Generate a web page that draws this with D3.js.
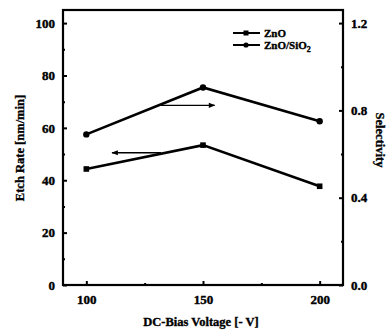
<!DOCTYPE html>
<html>
<head>
<script src="https://cdnjs.cloudflare.com/ajax/libs/d3/7.8.5/d3.min.js"></script>
<style>
  body { margin: 0; background: #fff; }
  text { font-family: "Liberation Serif", "Times New Roman", serif; font-weight: bold; fill: #000; stroke: #000; stroke-width: 0.35px; }
</style>
</head>
<body>
<svg width="387" height="331"></svg>
<script>
// data
const voltage = [100, 150, 200];
const etchZnO = [44.3, 53.4, 37.7];          // left axis, nm/min
const selectivity = [0.69, 0.905, 0.75];     // right axis
const leftTicks = [0, 20, 40, 60, 80, 100];
const rightTicks = [0, 0.4, 0.8, 1.2];
const xTicks = [100, 150, 200];
// arrows: [x from, x to, y in etch-rate units]
const arrows = [[132, 155, 68.6], [132, 111, 50.5]];

const svg = d3.select("svg");
const margin = {left: 63, right: 44, top: 10, bottom: 46};
const W = 387, H = 331;

const x = d3.scaleLinear().domain([90, 210]).range([margin.left, W - margin.right]);
const y = d3.scaleLinear().domain([0, 105]).range([H - margin.bottom, margin.top]);
const y2 = d3.scaleLinear().domain([0, 1.26]).range([H - margin.bottom, margin.top]);

svg.append("defs").append("marker")
  .attr("id", "arr").attr("viewBox", "0 0 10 10").attr("refX", 9).attr("refY", 5)
  .attr("markerWidth", 7).attr("markerHeight", 5).attr("orient", "auto")
  .append("path").attr("d", "M0,1 L10,5 L0,9 Z").attr("fill", "#000");

// axes (ticks inward)
const bottom = svg.append("g").attr("transform", `translate(0,${H - margin.bottom})`)
  .call(d3.axisBottom(x).tickValues(xTicks).tickSize(-4).tickPadding(10).tickFormat(d3.format("d")));
bottom.append("g").call(d3.axisBottom(x).tickValues([125, 175]).tickSize(-2).tickFormat(""));

const left = svg.append("g").attr("transform", `translate(${margin.left},0)`)
  .call(d3.axisLeft(y).tickValues(leftTicks).tickSize(-4).tickPadding(8));
left.append("g").call(d3.axisLeft(y).tickValues([10, 30, 50, 70, 90]).tickSize(-2).tickFormat(""));

const right = svg.append("g").attr("transform", `translate(${W - margin.right},0)`)
  .call(d3.axisRight(y2).tickValues(rightTicks).tickSize(-4).tickPadding(8).tickFormat(d3.format(".1f")));
right.append("g").call(d3.axisRight(y2).tickValues([0.2, 0.6, 1.0]).tickSize(-2).tickFormat(""));

svg.selectAll(".domain").remove();
svg.selectAll(".tick line").attr("stroke", "#000").attr("stroke-width", 2);
svg.selectAll(".tick text").attr("fill", "#000")
  .style("fill", "#000").style("stroke", "#000").style("stroke-width", "0.4px")
  .style("font-size", "13px").style("font-family", "Liberation Serif").style("font-weight", "bold");

// frame
svg.append("rect")
  .attr("x", margin.left).attr("y", margin.top)
  .attr("width", W - margin.left - margin.right).attr("height", H - margin.top - margin.bottom)
  .attr("fill", "none").attr("stroke", "#000").attr("stroke-width", 2.2);

// lines
const lineL = d3.line().x((d, i) => x(voltage[i])).y(d => y(d));
const lineR = d3.line().x((d, i) => x(voltage[i])).y(d => y2(d));

svg.append("path").datum(etchZnO).attr("d", lineL)
  .attr("fill", "none").attr("stroke", "#000").attr("stroke-width", 2.6);
svg.append("path").datum(selectivity).attr("d", lineR)
  .attr("fill", "none").attr("stroke", "#000").attr("stroke-width", 2.6);

svg.selectAll(".sq").data(etchZnO).enter().append("rect")
  .attr("x", (d, i) => x(voltage[i]) - 2.8).attr("y", d => y(d) - 2.8)
  .attr("width", 5.6).attr("height", 5.6).attr("fill", "#000");
svg.selectAll(".ci").data(selectivity).enter().append("circle")
  .attr("cx", (d, i) => x(voltage[i])).attr("cy", d => y2(d)).attr("r", 3.2).attr("fill", "#000");

// arrows
svg.selectAll(".arrow").data(arrows).enter().append("line")
  .attr("x1", d => x(d[0])).attr("x2", d => x(d[1]))
  .attr("y1", d => y(d[2])).attr("y2", d => y(d[2]))
  .attr("stroke", "#000").attr("stroke-width", 1.3).attr("marker-end", "url(#arr)");

// legend
const leg = svg.append("g");
[["ZnO", "sq"], ["ZnO/SiO", "ci"]].forEach((e, i) => {
  const ly = 33 + i * 12;
  leg.append("line").attr("x1", 233).attr("x2", 260).attr("y1", ly).attr("y2", ly)
    .attr("stroke", "#000").attr("stroke-width", 2);
  if (e[1] == "sq") leg.append("rect").attr("x", 243.5).attr("y", ly - 2.5).attr("width", 5).attr("height", 5);
  else leg.append("circle").attr("cx", 246).attr("cy", ly).attr("r", 2.6);
  const t = leg.append("text").attr("x", 264).attr("y", ly + 3.5).style("font-size", "11px").text(e[0]);
  if (i == 1) t.append("tspan").attr("dy", 3).style("font-size", "8px").text("2");
});

// axis titles
svg.append("text").attr("transform", "translate(24,148) rotate(-90)")
  .attr("text-anchor", "middle").style("font-size", "12.5px").text("Etch Rate [nm/min]");
svg.append("text").attr("transform", "translate(376,140) rotate(90)")
  .attr("text-anchor", "middle").style("font-size", "12.5px").text("Selectivity");
svg.append("text").attr("x", 201).attr("y", 326)
  .attr("text-anchor", "middle").style("font-size", "12.5px").text("DC-Bias Voltage [- V]");
</script>
</body>
</html>
